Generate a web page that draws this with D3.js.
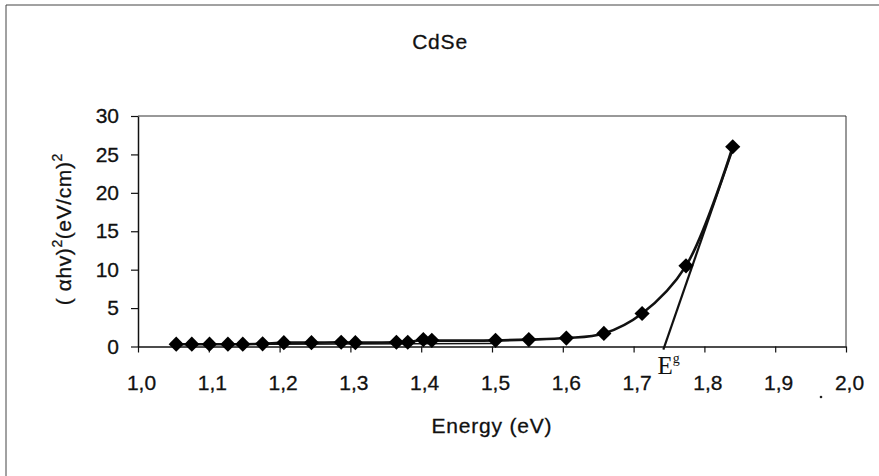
<!DOCTYPE html>
<html>
<head>
<meta charset="utf-8">
<script src="https://cdn.jsdelivr.net/npm/d3@7"></script>
<style>
  html, body { margin: 0; padding: 0; background: white; }
  svg { display: block; }
</style>
</head>
<body>
<svg width="879" height="476"></svg>
<script>
const svg = d3.select('svg');
const width = +svg.attr('width');
const height = +svg.attr('height');

// data
const energy = [1.054, 1.076, 1.101, 1.127, 1.148, 1.176, 1.206, 1.245, 1.287, 1.307, 1.365,
                1.381, 1.403, 1.415, 1.505, 1.552, 1.605, 1.658, 1.712, 1.774, 1.84];
const absorb = [0.3, 0.3, 0.3, 0.3, 0.3, 0.35, 0.5, 0.5, 0.55, 0.5, 0.55,
                0.55, 0.9, 0.8, 0.8, 0.9, 1.1, 1.7, 4.3, 10.5, 26.0];
const tangent = [[1.842, 26.2], [1.742, -0.4]];
const baseline = [[1.18, 0.3], [1.5, 0.4]];
const xTicks = [1.0, 1.1, 1.2, 1.3, 1.4, 1.5, 1.6, 1.7, 1.8, 1.9, 2.0];
const yTicks = [0, 5, 10, 15, 20, 25, 30];

const margin = {top: 116, right: 33, bottom: 129.5, left: 138};
const innerWidth = width - margin.left - margin.right;
const innerHeight = height - margin.top - margin.bottom;

const sans = '"Liberation Sans", Arial, sans-serif';
const serif = '"Liberation Serif", "Times New Roman", serif';
const fontSize = 21;

// outer frame (only top/left edges are in the picture)
svg.append('line').attr('x1', 6).attr('y1', 5).attr('x2', width).attr('y2', 5)
  .attr('stroke', '#444').attr('stroke-width', 1);
svg.append('line').attr('x1', 6).attr('y1', 5).attr('x2', 6).attr('y2', height)
  .attr('stroke', '#444').attr('stroke-width', 1);

const xScale = d3.scaleLinear().domain([1.0, 2.0]).range([0, innerWidth]);
const yScale = d3.scaleLinear().domain([0, 30]).range([innerHeight, 0]);

const g = svg.append('g')
  .attr('transform', `translate(${margin.left},${margin.top})`);

// plot frame top/right
g.append('path')
  .attr('d', `M0,0H${innerWidth}V${innerHeight}`)
  .attr('fill', 'none').attr('stroke', '#333').attr('stroke-width', 1);

const fmt = d => d3.format('.1f')(d).replace('.', ',');

const xAxis = g.append('g')
  .attr('transform', `translate(0,${innerHeight})`)
  .call(d3.axisBottom(xScale).tickValues(xTicks).tickFormat(fmt)
    .tickSizeInner(6).tickSizeOuter(0).tickPadding(23));

const yAxis = g.append('g')
  .call(d3.axisLeft(yScale).tickValues(yTicks)
    .tickSizeInner(7).tickSizeOuter(0).tickPadding(12));

[xAxis, yAxis].forEach(a => {
  a.attr('font-family', sans).attr('font-size', fontSize);
  a.select('.domain').attr('stroke', '#111').attr('stroke-width', 1.5);
  a.selectAll('.tick line').attr('stroke', '#111').attr('stroke-width', 1.2);
  a.selectAll('.tick text')
    .attr('fill', '#111')
    .attr('stroke', '#111').attr('stroke-width', 0.3);
});
xAxis.selectAll('.tick text').attr('dx', 3);

// baseline and tangent lines
const lineGen = d3.line().x(d => xScale(d[0])).y(d => yScale(d[1]));
g.append('path').datum(baseline)
  .attr('d', lineGen).attr('fill', 'none').attr('stroke', '#111').attr('stroke-width', 1.6);
g.append('path').datum(tangent)
  .attr('d', lineGen).attr('fill', 'none').attr('stroke', '#111').attr('stroke-width', 2.2);

// smoothed data line
const pts = energy.map((e, i) => [e, absorb[i]]);
g.append('path').datum(pts)
  .attr('d', d3.line().x(d => xScale(d[0])).y(d => yScale(d[1])).curve(d3.curveCatmullRom.alpha(0.5)))
  .attr('fill', 'none').attr('stroke', '#111').attr('stroke-width', 2.6);

// diamond markers
g.selectAll('path.marker').data(pts)
  .enter().append('path')
    .attr('class', 'marker')
    .attr('d', d3.symbol().type(d3.symbolSquare).size(115))
    .attr('transform', d => `translate(${xScale(d[0])},${yScale(d[1])}) rotate(45)`)
    .attr('fill', '#000');

// Eg label
const eg = g.append('text')
  .attr('x', xScale(1.738) - 3)
  .attr('y', innerHeight + 27)
  .attr('font-family', serif)
  .attr('font-size', 25)
  .attr('fill', '#111');
eg.append('tspan').text('E');
eg.append('tspan').text('g').attr('font-size', 14).attr('dy', -11);

// title
svg.append('text')
  .attr('x', 440).attr('y', 49)
  .attr('text-anchor', 'middle')
  .attr('font-family', sans)
  .attr('font-size', fontSize).attr('letter-spacing', 0.8)
  .attr('fill', '#111').attr('stroke', '#111').attr('stroke-width', 0.3)
  .text('CdSe');

// x axis title
svg.append('text')
  .attr('x', margin.left + innerWidth / 2)
  .attr('y', 433)
  .attr('text-anchor', 'middle')
  .attr('font-family', sans)
  .attr('font-size', fontSize).attr('letter-spacing', 0.8)
  .attr('fill', '#111').attr('stroke', '#111').attr('stroke-width', 0.3)
  .text('Energy (eV)');

// y axis title
const yt = svg.append('text')
  .attr('transform', `translate(71,${margin.top + innerHeight / 2 - 2}) rotate(-90)`)
  .attr('text-anchor', 'middle')
  .attr('font-family', sans)
  .attr('font-size', fontSize).attr('letter-spacing', 0.6)
  .attr('fill', '#111').attr('stroke', '#111').attr('stroke-width', 0.3);
yt.append('tspan').text('( αhv)');
yt.append('tspan').text('2').attr('font-size', 14).attr('dy', -9);
yt.append('tspan').text('(eV/cm)').attr('dy', 9);
yt.append('tspan').text('2').attr('font-size', 14).attr('dy', -9);

// stray dot from the scan
svg.append('circle').attr('cx', 821).attr('cy', 397).attr('r', 1.3).attr('fill', '#222');
</script>
</body>
</html>
